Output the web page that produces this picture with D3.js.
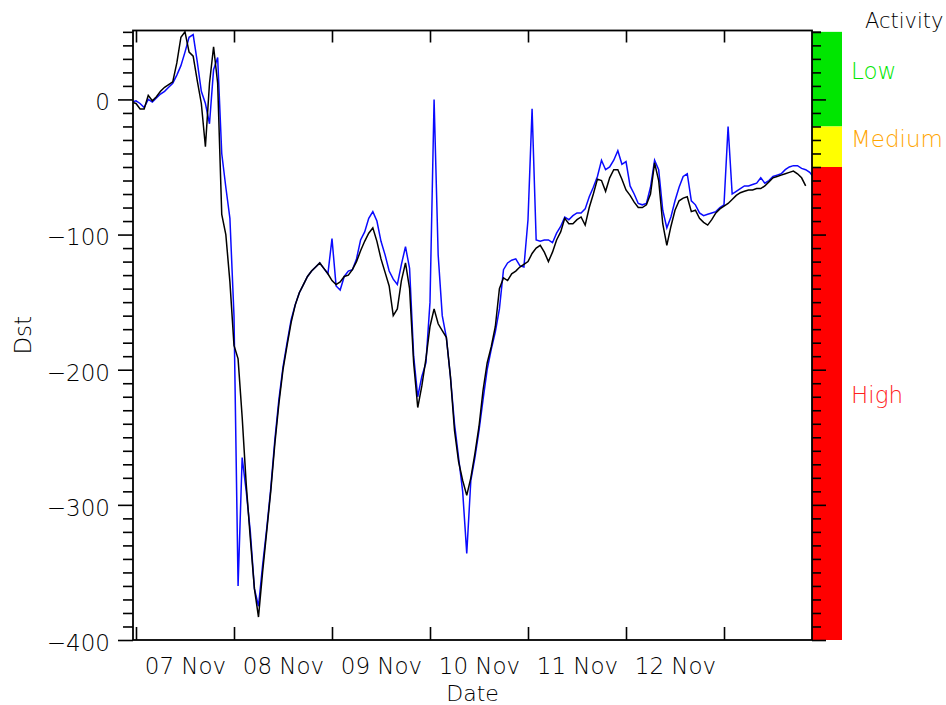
<!DOCTYPE html>
<html>
<head>
<meta charset="utf-8">
<script src="https://cdn.jsdelivr.net/npm/d3@7"></script>
<style>
  html, body { margin: 0; padding: 0; background: #fff; }
  svg text { font-family: "DejaVu Sans", sans-serif; font-weight: 200; }
</style>
</head>
<body>
<svg id="chart" width="946" height="705"></svg>
<script>
// Hourly Dst index, starting 06 Nov 2004 23:00 UT
const seriesStart = Date.UTC(2004, 10, 6, 23);

// measured Dst (black)
const dstMeasured = [
  -2, -3, -7, -7, 3, -1, 2, 6, 9, 11,
  13, 27, 46, 50, 35, 32, 14, -3, -35, 12,
  39, 12, -85, -100, -135, -182, -192, -235, -285, -325,
  -362, -383, -350, -320, -290, -255, -225, -200, -182, -165,
  -152, -143, -137, -131, -127, -124, -121, -125, -129, -134,
  -137, -135, -131, -130, -126, -120, -112, -105, -99, -95,
  -105, -118, -128, -138, -160, -155, -134, -121, -140, -195,
  -228, -212, -192, -168, -155, -166, -171, -176, -205, -245,
  -268, -282, -293, -280, -262, -242, -215, -195, -183, -168,
  -140, -132, -134, -129, -127, -124, -122, -120, -114, -110,
  -108, -113, -120, -113, -104, -98, -88, -92, -92, -89,
  -87, -93, -80, -70, -59, -60, -68, -58, -52, -52,
  -59, -67, -71, -76, -80, -80, -78, -70, -47, -60,
  -92, -108, -94, -82, -75, -73, -72, -83, -82, -88,
  -91, -93, -89, -84, -81, -79, -77, -74, -71, -69,
  -68, -67, -67, -66, -66, -64, -61, -58, -57, -56,
  -55, -54, -53, -55, -58, -64
];

// forecast Dst (blue)
const dstForecast = [
  -2, -1, -3, -6, 0, -2, 1, 4, 6, 9,
  12, 18, 25, 35, 46, 48, 28, 6, -3, -18,
  22, 31, -40, -65, -88, -160, -360, -265, -290, -320,
  -362, -375, -345, -318, -288, -252, -222, -198, -180, -163,
  -152, -143, -137, -131, -127, -124, -121, -125, -129, -103,
  -138, -141, -131, -127, -126, -118, -104, -98, -88, -83,
  -90, -105, -115, -127, -133, -137, -122, -109, -125, -190,
  -220, -205, -195, -150, 0, -115, -160, -176, -205, -240,
  -265, -290, -336, -282, -265, -245, -222, -200, -185, -172,
  -155, -126, -121, -119, -118, -123, -124, -89, -7, -104,
  -105, -104, -104, -106, -99, -94, -87, -89, -86, -84,
  -84, -81, -72, -65, -57, -45, -52, -50, -45, -38,
  -48, -46, -64, -70, -77, -78, -77, -65, -45, -52,
  -82, -95, -87, -75, -65, -57, -55, -75, -78, -84,
  -86, -85, -84, -83, -80, -78, -20, -70, -68, -66,
  -64, -64, -63, -62, -58, -62, -60, -57, -56, -55,
  -52, -50, -49, -49, -51, -52, -54, -58
];

// Activity bands on the colour bar
const activityNames = ["Low", "Medium", "High"];
const activityBounds = [50, -20, -50, -400];
const activityFills = ["#00e600", "#ffff00", "#ff0000"];
const activityTextColors = ["#00e600", "#ffa500", "#ff2020"];

// Axis extents and tick values
const timeDomain = [Date.UTC(2004, 10, 6, 23, 16), Date.UTC(2004, 10, 13, 21, 33)];
const dstDomain = [-400, 51];
const dayTicks = [7, 8, 9, 10, 11, 12, 13].map(d => new Date(Date.UTC(2004, 10, d)));
const dayLabels = [7, 8, 9, 10, 11, 12].map(d => new Date(Date.UTC(2004, 10, d, 12)));
const majorDst = d3.range(-400, 1, 100);
const minorDst = d3.range(-400, 51, 10).filter(v => v % 100 !== 0);

(function drawChart() {
  const svg = d3.select("#chart");
  const plotLeft = 133, plotRight = 812, plotTop = 30.5, plotBottom = 640;
  const barRight = 842;

  const x = d3.scaleUtc().domain(timeDomain.map(t => new Date(t))).range([plotLeft, plotRight]);
  const y = d3.scaleLinear().domain(dstDomain).range([plotBottom, plotTop]);

  const hourTime = i => new Date(seriesStart + i * 3600e3);

  // colour bar
  activityNames.forEach((name, i) => {
    svg.append("rect")
      .attr("x", plotRight).attr("width", barRight - plotRight)
      .attr("y", y(activityBounds[i]))
      .attr("height", y(activityBounds[i + 1]) - y(activityBounds[i]))
      .attr("fill", activityFills[i]);
    svg.append("text")
      .attr("x", 851)
      .attr("y", (y(activityBounds[i]) + y(activityBounds[i + 1])) / 2)
      .attr("font-size", 23)
      .attr("fill", activityTextColors[i])
      .text(name);
  });
  svg.append("text").attr("x", 865).attr("y", 28).attr("font-size", 21)
    .attr("fill", "#000").text("Activity");

  // data lines, clipped to the plot frame
  svg.append("clipPath").attr("id", "plot-clip")
    .append("rect").attr("x", plotLeft).attr("y", plotTop)
    .attr("width", plotRight - plotLeft).attr("height", plotBottom - plotTop);

  const line = d3.line()
    .x((d, i) => x(hourTime(i)))
    .y(d => y(d));

  const lines = svg.append("g").attr("clip-path", "url(#plot-clip)");
  lines.append("path").datum(dstForecast)
    .attr("d", line).attr("fill", "none")
    .attr("stroke", "#0a0aff").attr("stroke-width", 1.5);
  lines.append("path").datum(dstMeasured)
    .attr("d", line).attr("fill", "none")
    .attr("stroke", "#000").attr("stroke-width", 1.5);

  // axes
  function styleAxis(g) {
    g.select(".domain").remove();
    g.selectAll(".tick line").attr("stroke", "#000").attr("stroke-width", 1.6);
  }

  // left: minor and major ticks
  svg.append("g").attr("transform", `translate(${plotLeft},0)`)
    .call(d3.axisLeft(y).tickValues(minorDst).tickSize(10).tickFormat(""))
    .call(styleAxis);
  svg.append("g").attr("transform", `translate(${plotLeft},0)`)
    .call(d3.axisLeft(y).tickValues(majorDst).tickSize(15).tickPadding(8))
    .call(styleAxis)
    .call(g => g.selectAll(".tick text")
      .attr("font-size", 23).attr("fill", "#000")
      .attr("x", -23).attr("dy", "0.45em"));

  // colour-bar ticks pointing into the bar
  svg.append("g").attr("transform", `translate(${plotRight},0)`)
    .call(d3.axisRight(y).tickValues(minorDst.concat([50])).tickSize(9).tickFormat(""))
    .call(styleAxis);
  svg.append("g").attr("transform", `translate(${plotRight},0)`)
    .call(d3.axisRight(y).tickValues(majorDst).tickSize(14).tickFormat(""))
    .call(styleAxis);

  // bottom: day ticks inside, labels centred on each day
  const inDomain = dayTicks.filter(d => d <= x.domain()[1]);
  svg.append("g").attr("transform", `translate(0,${plotBottom})`)
    .call(d3.axisBottom(x).tickValues(inDomain).tickSize(-13).tickFormat(""))
    .call(styleAxis);
  svg.append("g").attr("transform", `translate(0,${plotBottom})`)
    .call(d3.axisBottom(x).tickValues(dayLabels).tickSize(0).tickFormat(d3.utcFormat("%d Nov")))
    .call(styleAxis)
    .call(g => g.selectAll(".tick text")
      .attr("font-size", 23).attr("fill", "#000")
      .attr("y", 34).attr("dy", 0));
  svg.append("g").attr("transform", `translate(0,${plotTop})`)
    .call(d3.axisTop(x).tickValues(inDomain).tickSize(-12).tickFormat(""))
    .call(styleAxis);

  // frame
  svg.append("rect").attr("x", plotLeft).attr("y", plotTop)
    .attr("width", plotRight - plotLeft).attr("height", plotBottom - plotTop)
    .attr("fill", "none").attr("stroke", "#000").attr("stroke-width", 1.8);

  // axis titles
  svg.append("text").attr("x", (plotLeft + plotRight) / 2).attr("y", 701)
    .attr("text-anchor", "middle").attr("font-size", 22).text("Date");
  svg.append("text")
    .attr("transform", `translate(31,${(plotTop + plotBottom) / 2}) rotate(-90)`)
    .attr("text-anchor", "middle").attr("font-size", 23).text("Dst");
})();
</script>
</body>
</html>
